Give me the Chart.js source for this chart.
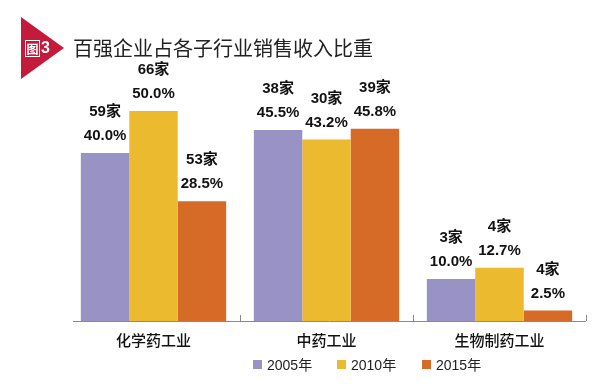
<!DOCTYPE html>
<html>
<head>
<meta charset="utf-8">
<script src="https://cdn.jsdelivr.net/npm/chart.js@4.4.1/dist/chart.umd.min.js"></script>
<style>
  html, body { margin: 0; padding: 0; background: #fff; }
  #wrap { position: relative; width: 615px; height: 387px; overflow: hidden; background: #fff; }
  #c { position: absolute; left: 0; top: 0; }
  .tri { position: absolute; left: 21px; top: 17px; width: 0; height: 0;
         border-top: 31px solid transparent; border-bottom: 31px solid transparent;
         border-left: 43px solid #c41a3c; }
  .tu { position: absolute; left: 25px; top: 40px; width: 13px; height: 15px; border: 1px solid #fff;
        color: #fff; font: bold 12px "Noto Sans CJK SC", sans-serif; line-height: 15px; text-align: center; }
  .tn { position: absolute; left: 41px; top: 38px; color: #fff; font: bold 16px "Liberation Sans", sans-serif; line-height: 19px; }
  .title { position: absolute; left: 73px; top: 34px; font: 20px "Noto Sans CJK SC", sans-serif; color: #222; line-height: 28px; white-space: nowrap; }
  .legend { position: absolute; top: 356px; left: 253px; font: 14px "Liberation Sans", "Noto Sans CJK SC", sans-serif; color: #222; white-space: nowrap; }
  .legend span.item { position: absolute; top: 0; line-height: 18px; }
  .legend i { display: inline-block; width: 9px; height: 9px; margin-right: 5px; vertical-align: 1px; }
</style>
</head>
<body>
<div id="wrap">
  <canvas id="c" width="615" height="387"></canvas>
  <div class="tri"></div>
  <div class="tu">图</div>
  <div class="tn">3</div>
  <div class="title">百强企业占各子行业销售收入比重</div>
  <div class="legend" id="legend"></div>
</div>
<script>
const categories = ["化学药工业", "中药工业", "生物制药工业"];
const seriesNames = ["2005年", "2010年", "2015年"];
const share2005 = [40.0, 45.5, 10.0];
const share2010 = [50.0, 43.2, 12.7];
const share2015 = [28.5, 45.8, 2.5];
const count2005 = [59, 38, 3];
const count2010 = [66, 30, 4];
const count2015 = [53, 39, 4];
const colors = ["#9893c4", "#ebba2e", "#d56b26"];

const shares = [share2005, share2010, share2015];
const counts = [count2005, count2010, count2015];

// HTML legend
const leg = document.getElementById('legend');
const legOffsets = [0, 84, 169];
seriesNames.forEach((n, i) => {
  const s = document.createElement('span');
  s.className = 'item';
  s.style.left = legOffsets[i] + 'px';
  s.innerHTML = '<i style="background:' + colors[i] + '"></i>' + n;
  leg.appendChild(s);
});

const decoPlugin = {
  id: 'deco',
  afterDatasetsDraw(chart) {
    const ctx = chart.ctx;
    const area = chart.chartArea;
    const x = chart.scales.x;
    ctx.save();
    // axis line
    ctx.strokeStyle = '#8a8a8a';
    ctx.lineWidth = 1;
    ctx.beginPath();
    ctx.moveTo(area.left + 6, area.bottom + 0.5);
    ctx.lineTo(area.right, area.bottom + 0.5);
    ctx.stroke();
    // ticks at category boundaries (upward)
    for (let i = 0; i < categories.length; i++) {
      const bx = Math.round((x.getPixelForValue(i) + (i + 1 < categories.length ? x.getPixelForValue(i + 1) : 2 * x.getPixelForValue(i) - x.getPixelForValue(i - 1))) / 2) + 0.5;
      ctx.beginPath();
      ctx.moveTo(bx, area.bottom);
      ctx.lineTo(bx, area.bottom - 6);
      ctx.stroke();
    }
    // category labels
    ctx.fillStyle = '#111';
    ctx.font = '500 15px "Noto Sans CJK SC", sans-serif';
    ctx.textAlign = 'center';
    ctx.textBaseline = 'middle';
    categories.forEach((c, i) => {
      ctx.fillText(c, x.getPixelForValue(i), area.bottom + 19);
    });
    // value labels
    ctx.fillStyle = '#111';
    chart.data.datasets.forEach((ds, di) => {
      const meta = chart.getDatasetMeta(di);
      meta.data.forEach((bar, i) => {
        ctx.font = 'bold 15px "Liberation Sans", "Noto Sans CJK SC", sans-serif';
        ctx.fillText(shares[di][i].toFixed(1) + '%', bar.x, bar.y - 17);
        ctx.fillText(counts[di][i] + '家', bar.x, bar.y - 41);
      });
    });
    ctx.restore();
  }
};

new Chart(document.getElementById('c'), {
  type: 'bar',
  data: {
    labels: categories,
    datasets: seriesNames.map((n, i) => ({
      label: n,
      data: shares[i],
      backgroundColor: colors[i],
      borderWidth: 0,
      barPercentage: 1.0,
      categoryPercentage: 0.84
    }))
  },
  options: {
    responsive: false,
    animation: false,
    events: [],
    layout: { padding: { left: 67, right: 29, top: 69, bottom: 66 } },
    scales: {
      x: { display: false },
      y: { display: false, min: 0, max: 60 }
    },
    plugins: {
      legend: { display: false },
      tooltip: { enabled: false }
    }
  },
  plugins: [decoPlugin]
});
</script>
</body>
</html>
